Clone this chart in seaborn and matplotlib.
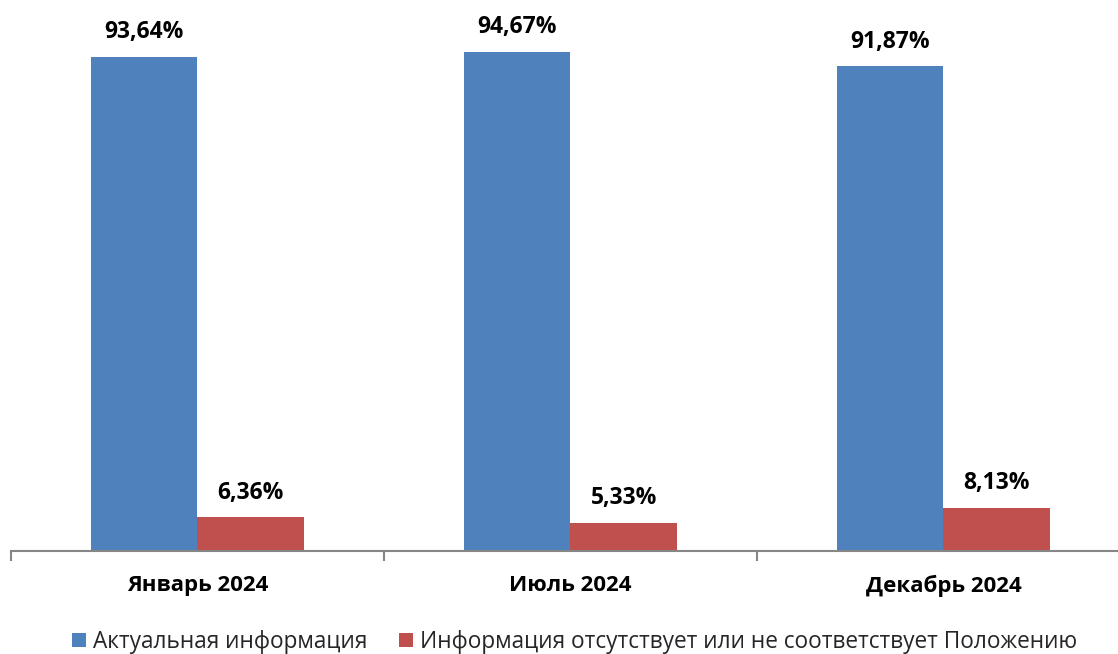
import matplotlib
matplotlib.use("Agg")
import matplotlib.pyplot as plt
import seaborn as sns
import pandas as pd
from matplotlib.patches import Patch
from matplotlib.ticker import FixedLocator

categories = ["Январь 2024", "Июль 2024", "Декабрь 2024"]
series_names = ["Актуальная информация",
                "Информация отсутствует или не соответствует Положению"]
actual = [93.64, 94.67, 91.87]
missing = [6.36, 5.33, 8.13]
colors = ["#4F81BD", "#C0504D"]

df = pd.DataFrame({
    "cat": categories * 2,
    "series": [series_names[0]] * 3 + [series_names[1]] * 3,
    "val": actual + missing,
})

sns.set_theme(style="white")
plt.rcParams["font.family"] = ["Open Sans", "DejaVu Sans"]

W, H = 1118, 654
fig = plt.figure(figsize=(W / 100, H / 100), dpi=100)
ax_left, ax_right = 11, 1130
ax_bottom_px = 551
px_per_unit = 494 / 93.64
ax_h = 100 * px_per_unit
ax = fig.add_axes([ax_left / W, (H - ax_bottom_px) / H,
                   (ax_right - ax_left) / W, ax_h / H])

sns.barplot(data=df, x="cat", y="val", hue="series", palette=colors,
            width=0.57, gap=0, dodge=True, legend=False, ax=ax,
            saturation=1, edgecolor="none", linewidth=0)

ax.set_ylim(0, 100)
ax.set_xlim(-0.5, 2.5)
for s in ["top", "right", "left"]:
    ax.spines[s].set_visible(False)
ax.spines["bottom"].set_color("#868686")
ax.spines["bottom"].set_linewidth(1.5)
ax.set_yticks([])
ax.set_xlabel("")
ax.set_ylabel("")
ax.xaxis.set_minor_locator(FixedLocator([-0.5, 0.5, 1.5, 2.5]))
ax.tick_params(axis="x", which="minor", length=7, width=1.5, color="#868686",
               direction="out", bottom=True)
ax.tick_params(axis="x", which="major", length=0, pad=17)
for lbl in ax.get_xticklabels():
    lbl.set_fontweight("bold")
    lbl.set_fontsize(16)
    lbl.set_color("black")

for cont in ax.containers:
    for bar in cont:
        v = bar.get_height()
        ax.annotate(f"{v:.2f}".replace(".", ",") + "%",
                    (bar.get_x() + bar.get_width() / 2, v),
                    xytext=(0, 13.5), textcoords="offset points",
                    ha="center", va="baseline", fontsize=16.5,
                    fontweight="bold", color="black")

handles = [Patch(facecolor=c, edgecolor="none") for c in colors]
fig.legend(handles, series_names, loc="center",
           bbox_to_anchor=(574.5 / W, 1 - 642 / H), ncol=2, frameon=False,
           fontsize=16.3, handlelength=0.62, handleheight=0.62,
           handletextpad=0.31, columnspacing=1.37, borderpad=0)

fig.savefig("out.png", dpi=100)
